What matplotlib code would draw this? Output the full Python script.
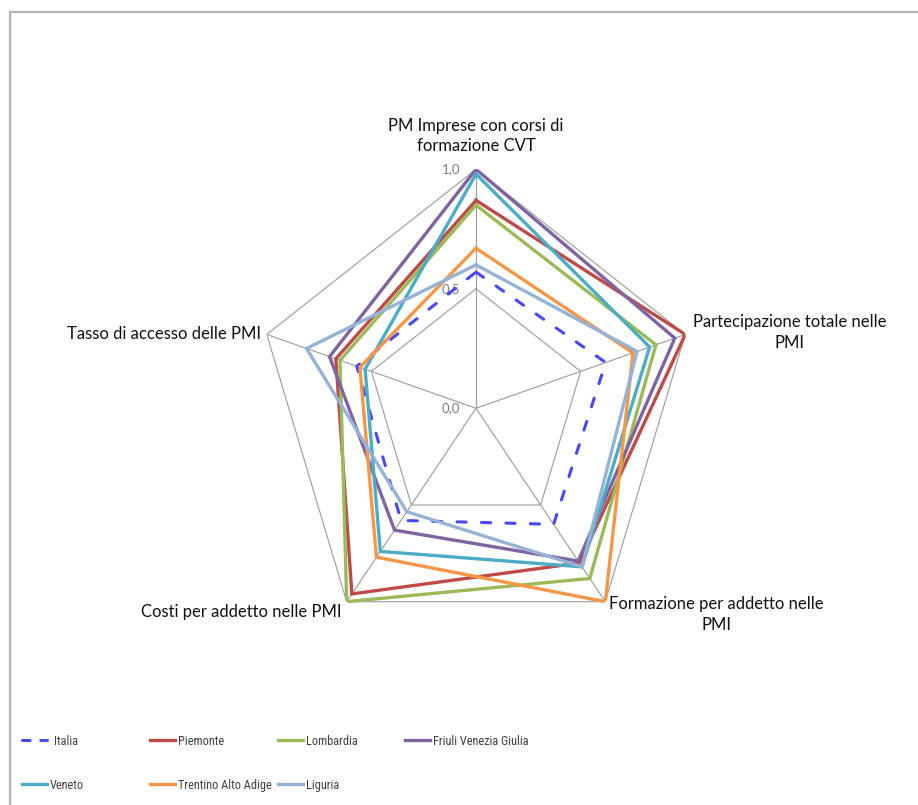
import numpy as np
import matplotlib
matplotlib.use("Agg")
import matplotlib.pyplot as plt
from matplotlib.lines import Line2D
from matplotlib import font_manager

# ---------------- data ----------------
categories = [
    "PM Imprese con corsi di\nformazione CVT",
    "Partecipazione totale nelle\nPMI",
    "Formazione per addetto nelle\nPMI",
    "Costi per addetto nelle PMI",
    "Tasso di accesso delle PMI",
]
series_names = ["Italia", "Piemonte", "Lombardia", "Friuli Venezia Giulia",
                "Veneto", "Trentino Alto Adige", "Liguria"]
italia = [0.57, 0.62, 0.60, 0.58, 0.57]
piemonte = [0.87, 1.00, 0.80, 0.96, 0.67]
lombardia = [0.85, 0.86, 0.88, 1.00, 0.65]
friuli = [1.00, 0.95, 0.79, 0.63, 0.70]
veneto = [0.98, 0.83, 0.82, 0.74, 0.53]
trentino = [0.67, 0.75, 1.00, 0.77, 0.555]
liguria = [0.60, 0.77, 0.82, 0.535, 0.81]
tick_values = [0.0, 0.5, 1.0]
tick_labels = ["0,0", "0,5", "1,0"]

series_values = [italia, piemonte, lombardia, friuli, veneto, trentino, liguria]
colors = ["#4848ff", "#be4b48", "#9bbb59", "#8064a2", "#4bacc6", "#f79646", "#95b3d7"]

# ---------------- fonts ----------------
avail = {f.name for f in font_manager.fontManager.ttflist}
main_font = "Lato" if "Lato" in avail else "DejaVu Sans"
narrow = None
for cand in ["Liberation Sans Narrow", "DejaVu Sans Condensed", "Roboto Condensed"]:
    if cand in avail:
        narrow = cand
        break
legend_font = narrow if narrow else main_font
plt.rcParams['font.family'] = [main_font, 'DejaVu Sans']

W, H = 918, 805
fig = plt.figure(figsize=(W / 100, H / 100), dpi=100)

# chart-area border (top and left edges visible)
fig.add_artist(Line2D([10 / W, 1.0], [1 - 12 / H, 1 - 12 / H], transform=fig.transFigure,
                      color="#b4b4b4", lw=1.6))
fig.add_artist(Line2D([10 / W, 10 / W], [0.0, 1 - 12 / H], transform=fig.transFigure,
                      color="#b4b4b4", lw=1.6))

# radar axes: centre (476, 408) px, radius x 220 px, radius y 239 px
cx, cy, rx, ry = 476, 408.3, 220, 239
ax = fig.add_axes([(cx - rx) / W, (H - cy - ry) / H, 2 * rx / W, 2 * ry / H], projection="polar")
ax.set_aspect("auto")
ax.set_theta_zero_location("N")
ax.set_theta_direction(-1)
ax.set_ylim(0, 1.0)
ax.grid(False)
ax.spines["polar"].set_visible(False)
ax.set_xticks([])
ax.set_yticks([])
ax.patch.set_alpha(0)

n = len(categories)
angles = np.arange(n) * 2 * np.pi / n
closed = np.concatenate([angles, angles[:1]])

grid_color = "#a0a0a0"
for r in tick_values[1:]:
    ax.plot(closed, [r] * (n + 1), color=grid_color, lw=0.85, zorder=1)
for a in angles:
    ax.plot([a, a], [0, tick_values[-1]], color=grid_color, lw=0.85, zorder=1)

# tick labels
for v, lab in zip(tick_values, tick_labels):
    ax.annotate(lab, xy=(0, v), xytext=(-16, 0), textcoords="offset pixels",
                ha="right", va="center", fontsize=9.5, color="#7f7f7f", zorder=2)

# series
for i, (name, vals, col) in enumerate(zip(series_names, series_values, colors)):
    v = list(vals) + [vals[0]]
    if name == "Italia":
        ax.plot(closed, v, color=col, lw=2.2, linestyle=(0, (3.0, 5.0)),
                dash_capstyle="round", solid_joinstyle="miter", zorder=3 + i)
    else:
        ax.plot(closed, v, color=col, lw=2.4, solid_joinstyle="miter", zorder=3 + i)

# category labels
lab_kw = dict(fontsize=12, color="#111111", textcoords="offset pixels",
              multialignment="center", linespacing=1.35, annotation_clip=False)
ax.annotate(categories[0], xy=(angles[0], 1.0), xytext=(0, 15), ha="center", va="bottom", **lab_kw)
ax.annotate(categories[1], xy=(angles[1], 1.0), xytext=(8, 2), ha="left", va="center", **lab_kw)
ax.annotate(categories[2], xy=(angles[2], 1.0), xytext=(4, -13), ha="left", va="center", **lab_kw)
ax.annotate(categories[3], xy=(angles[3], 1.0), xytext=(-5, -10), ha="right", va="center", **lab_kw)
ax.annotate(categories[4], xy=(angles[4], 1.0), xytext=(-6, 0), ha="right", va="center", **lab_kw)

# legend: row-major, fixed columns
col_x = [22, 150, 278, 405]
row_y = [741, 785]
leg_fs = 8.8
for i, (name, col) in enumerate(zip(series_names, colors)):
    r, c = divmod(i, 4)
    if name == "Italia":
        h = Line2D([], [], color=col, lw=2.2, linestyle=(0, (2.5, 3.5)), dash_capstyle="round")
    else:
        h = Line2D([], [], color=col, lw=2.4)
    leg = fig.legend([h], [name], loc="center left",
                     bbox_to_anchor=(col_x[c] / W, 1 - row_y[r] / H),
                     frameon=False, borderpad=0, borderaxespad=0,
                     handlelength=25 / (leg_fs * 100 / 72),
                     handletextpad=(7 if name == "Italia" else 3) / (leg_fs * 100 / 72),
                     prop={"family": legend_font, "size": leg_fs})
    for t in leg.get_texts():
        t.set_color("#404040")

fig.savefig("out.png", dpi=100)
